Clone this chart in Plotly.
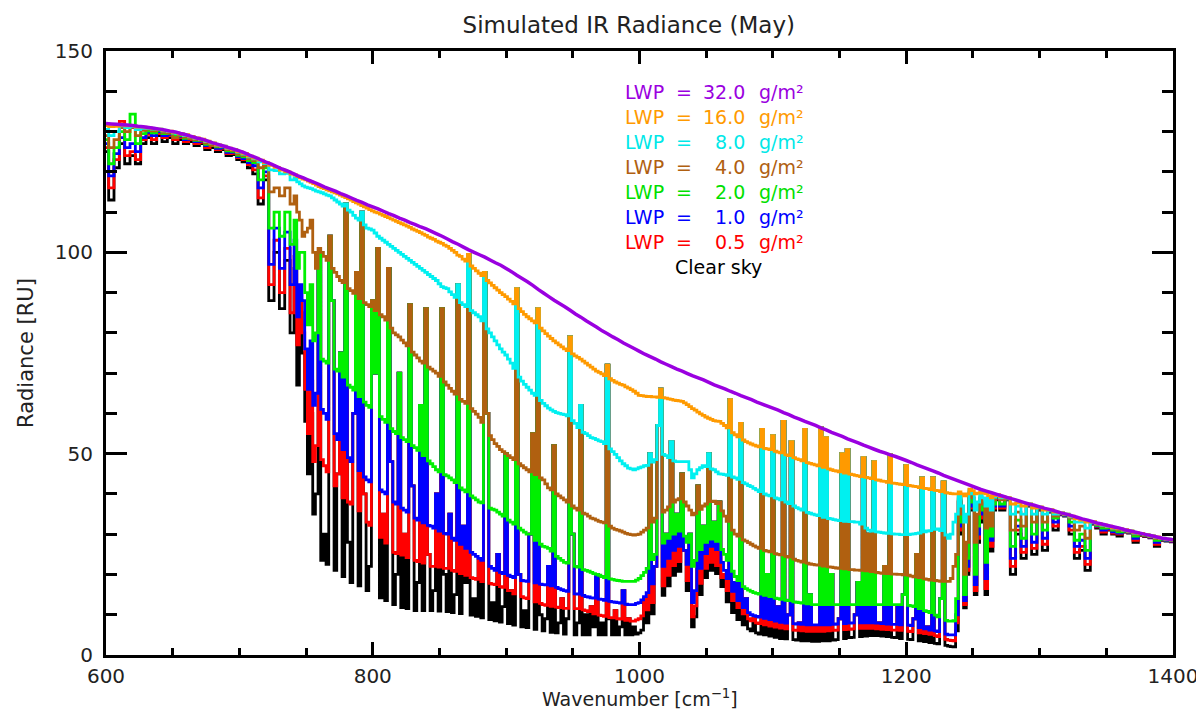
import plotly.graph_objects as go

# ---------------- data ----------------
# wavenumber samples (cm^-1): 4 cm^-1 in the CO2 band and the far wing, 2 cm^-1 in the window
wavenumber = list(range(600, 740, 4)) + list(range(740, 1270, 2)) + list(range(1272, 1401, 4))
wavenumber_top = list(range(600, 1401, 4))  # sampling of the smooth LWP = 32 curve

clear_sky = [
    # 600-736
    125, 113, 121, 127, 122, 124, 122, 127, 128.5, 127, 129, 127.5, 128.5, 127, 128, 127, 127.5, 126.5,
    127, 125.5, 126, 125, 125.5, 124, 124.3, 123, 122.5, 121, 119.5, 112, 118, 88, 100, 86, 98,
    # 740-1268
    80, 96, 67, 85, 75, 58, 45, 60, 35, 40,
    100, 23.5, 30, 22.5, 104, 88, 21, 45, 75, 19.5,
    112, 28, 18, 60, 95, 17.2, 110, 40, 16, 22,
    88, 70, 101, 14.2, 35, 13.5, 96, 48, 12.5, 20,
    70, 11.8, 30, 11.5, 87, 42, 11, 18, 62, 11,
    86, 25, 11, 16, 40, 10.9, 86, 20, 10.8, 35,
    10.5, 15, 92, 10.3, 32, 18, 99.5, 9.9, 14, 9.6,
    24, 9.2, 95, 60, 8.8, 13, 8.5, 25, 8.2, 12,
    50, 7.8, 16, 7.4, 91, 20, 7, 11, 6.8, 30,
    55, 6.4, 86, 10, 6, 9, 22, 5.6, 52, 5.5,
    8, 14, 5.2, 9, 79, 30, 5, 8, 62, 5,
    10, 5, 12, 7, 20, 5, 8, 5, 72, 9,
    5, 11, 5, 7, 16, 5, 9, 5, 7, 5.2,
    5.5, 6.2, 14, 8, 50, 10.2, 22, 57, 66, 14.8,
    30, 17.2, 53, 19.8, 35, 20.8, 45, 26, 16, 30,
    7, 9.5, 42, 15, 32, 19.2, 50, 21, 33, 20.2,
    38, 17, 20, 13.2, 63.4, 10.5, 18, 8.8, 57.5, 7.5,
    14, 6.5, 6, 9, 5.5, 5.2, 56, 5, 20, 4.7,
    54.5, 4.4, 12, 4.1, 58, 4, 10, 53, 3.8, 3.7,
    8, 3.5, 56, 3.5, 15, 3.4, 7, 3.4, 56.4, 3.5,
    54, 3.5, 20, 3.7, 3.8, 9, 50, 4.1, 51, 4.3,
    4.4, 10, 18, 4.6, 49, 4.7, 30, 4.8, 48, 4.8,
    8, 4.7, 22, 4.6, 49.7, 4.4, 4.3, 12, 4.1, 15,
    47, 3.9, 3.8, 9, 25, 3.5, 44, 3.3, 7, 3.1,
    44, 2.9, 2.8, 14, 43, 2.4, 2.2, 2.1, 2, 6,
    38, 30, 11.7, 20, 39, 36, 15, 28, 36, 33,
    15, 35, 25.8, 36, 38.5,
    # 1272-1400
    36, 38.5, 20, 30, 24, 37, 25, 36, 26, 35.5, 31, 34.8, 34.5, 30, 24, 26, 21, 32.5, 31.5, 30, 31,
    30, 29.5, 30.5, 30.3, 28, 29.7, 29.4, 29.1, 27, 28.5, 28.3, 28.1,
]

lwp_0_5 = [
    126, 116, 123, 132.5, 124, 125, 123, 128, 129.3, 128, 129.5, 128.5, 129, 128, 128.5, 127.5, 128, 127,
    127.3, 126, 126.5, 125.5, 125.8, 124.5, 124.6, 123.5, 123, 121.8, 120.5, 113.5, 119, 92, 103, 90, 101,
    85, 99, 77, 88, 80, 66, 55, 68, 48, 52,
    100, 48.5, 47, 45.5, 104, 88, 42, 45, 75, 39,
    112, 38, 37.5, 60, 95, 35.8, 110, 40, 33, 32.2,
    88, 70, 101, 29.2, 35, 27.8, 96, 48, 25.5, 25.2,
    70, 24.8, 30, 24.2, 87, 42, 23.5, 23.2, 62, 22.8,
    86, 25, 22, 22, 40, 21.8, 86, 21.5, 21.5, 35,
    21, 20.8, 92, 20.2, 32, 19.8, 99.5, 19.2, 19, 18.8,
    24, 18.2, 95, 60, 17.8, 17.6, 17.5, 25, 17, 16.8,
    50, 16, 16, 15.2, 91, 20, 14.5, 14.2, 14, 30,
    55, 13.2, 86, 12.8, 12.5, 12.3, 22, 12.1, 52, 11.9,
    11.8, 14, 11.6, 11.6, 79, 30, 11.5, 11.5, 62, 11.2,
    11, 10.8, 12, 10.2, 20, 9.9, 9.8, 9.6, 72, 9.3,
    9.2, 11, 9, 8.9, 16, 8.6, 9, 8.4, 8.4, 8.7,
    9, 9.7, 14, 11.2, 50, 13, 22, 57, 66, 17.2,
    30, 19.8, 53, 22.2, 35, 23.2, 45, 26, 18.5, 30,
    9.5, 12.2, 42, 17.8, 32, 21.5, 50, 23, 33, 22.2,
    38, 19.2, 20, 16, 63.4, 13.5, 18, 11.8, 57.5, 10.2,
    14, 9, 8.5, 9, 8, 7.8, 56, 7.5, 20, 7.2,
    54.5, 6.9, 12, 6.7, 58, 6.5, 10, 53, 6.2, 6.1,
    8, 6, 56, 5.9, 15, 5.9, 7, 5.9, 56.4, 5.9,
    54, 6, 20, 6.1, 6.2, 9, 50, 6.3, 51, 6.4,
    6.5, 10, 18, 6.6, 49, 6.6, 30, 6.6, 48, 6.5,
    8, 6.4, 22, 6.3, 49.7, 6.2, 6.2, 12, 6.1, 15,
    47, 5.9, 5.8, 9, 25, 5.5, 44, 5.3, 7, 5.1,
    44, 4.8, 4.6, 14, 43, 3.9, 3.7, 3.6, 3.5, 8,
    38, 31, 12.5, 21, 39, 36.5, 16, 29, 36.5, 34,
    16.5, 35.5, 27, 36.5, 38.8,
    36.5, 38.6, 22, 31, 25.5, 37.1, 26.5, 36.2, 27.5, 35.6, 32, 34.9, 34.6, 31, 25.5, 27, 22.5, 32.6,
    31.8, 30.5, 31.2, 30.3, 30, 30.6, 30.4, 28.5, 29.8, 29.5, 29.2, 27.5, 28.6, 28.4, 28.2,
]

lwp_1 = [
    127, 119, 124.5, 128.5, 126, 127, 125, 128.5, 129.8, 129, 130, 129, 129.3, 128.5, 128.8, 128, 128.3,
    127.5, 127.6, 126.5, 126.8, 125.8, 126, 124.8, 124.9, 123.8, 123.3, 122.3, 121.5, 116, 120, 97, 106, 96,
    105,
    92, 103, 84, 92, 88, 76, 66, 78, 62, 65,
    100, 61, 60, 58.5, 104, 88, 55, 53.5, 75, 51,
    112, 49, 48, 60, 95, 45.8, 110, 44.2, 43.5, 43,
    88, 70, 101, 41, 40.5, 40, 96, 48, 38, 37.5,
    70, 36.5, 36, 35.5, 87, 42, 34, 33.5, 62, 32.8,
    86, 32.2, 32, 31.5, 40, 30.8, 86, 30.2, 30, 35,
    29, 28.5, 92, 27.5, 32, 26.5, 99.5, 25.5, 25, 24.5,
    24, 23.5, 95, 60, 22, 21.5, 21, 25, 20.5, 20.2,
    50, 19.8, 19.5, 19.2, 91, 20, 18.5, 18.4, 18.3, 30,
    55, 17.9, 86, 17.6, 17.5, 17.4, 22, 17.2, 52, 16.8,
    16.5, 16.2, 16, 15.8, 79, 30, 15.2, 15.1, 62, 14.8,
    14.5, 14.4, 14.2, 14.1, 20, 13.9, 13.8, 13.6, 72, 13.3,
    13.2, 13.1, 13, 12.9, 16, 12.6, 12.5, 12.5, 12.5, 12.8,
    13, 13.7, 14.5, 15.5, 50, 17.7, 22, 57, 66, 22,
    30, 24, 53, 26, 35, 27, 45, 26, 22.5, 30,
    13, 16, 42, 21.5, 32, 25.2, 50, 27, 33, 26.2,
    38, 23, 21, 19, 63.4, 15.8, 18, 13.5, 57.5, 11.8,
    14, 10.5, 10, 9.8, 9.6, 9.4, 56, 9.1, 20, 8.8,
    54.5, 8.4, 12, 8.1, 58, 7.9, 10, 53, 7.8, 7.7,
    8, 7.6, 56, 7.5, 15, 7.5, 7.5, 7.5, 56.4, 7.5,
    54, 7.5, 20, 7.6, 7.7, 9, 50, 7.8, 51, 7.9,
    8, 10, 18, 8, 49, 8, 30, 8, 48, 7.9,
    8, 7.8, 22, 7.7, 49.7, 7.6, 7.6, 12, 7.5, 15,
    47, 7.4, 7.3, 9, 25, 6.8, 44, 6.5, 7, 6.2,
    44, 6, 5.8, 14, 43, 5.2, 5, 5, 5, 10,
    38.5, 32, 13.5, 22, 39.5, 37, 17.5, 30, 37, 35,
    19, 36, 28.5, 37, 39,
    37, 38.7, 24, 32, 27, 37.2, 28, 36.4, 29, 35.7, 33, 35, 34.7, 32, 27, 28.5, 24, 32.7, 32, 31, 31.4,
    30.6, 30.3, 30.7, 30.5, 29, 29.9, 29.6, 29.3, 28, 28.7, 28.5, 28.3,
]

lwp_2 = [
    128, 122, 126, 130, 128, 134.3, 127, 129.5, 130.2, 129.7, 130.3, 129.5, 129.6, 129, 129, 128.3, 128.5,
    127.8, 127.8, 126.8, 127, 126.2, 126.2, 125.2, 125.1, 124.1, 123.7, 122.8, 122.3, 118, 121, 106, 110,
    104, 110,
    102, 108, 96, 100, 100, 90, 82, 92, 78, 80,
    100, 73.5, 73, 72.5, 104, 88, 71, 70.5, 75, 69,
    112, 67, 66.5, 65.8, 95, 64.2, 110, 62.8, 62, 61.5,
    88, 70, 101, 59.2, 58.5, 57.8, 96, 56.2, 55.5, 55,
    70, 54, 53.5, 53, 87, 52, 51.5, 50.8, 62, 49.5,
    86, 48.2, 47.5, 46.8, 46, 45.5, 86, 44.8, 44.5, 44,
    43.5, 42.8, 92, 41.5, 41, 40.5, 99.5, 39.5, 39, 38.5,
    38, 37.8, 95, 60, 36.5, 36.2, 36, 35.5, 35, 34.5,
    50, 33.5, 33, 32.5, 91, 31.5, 31, 30.5, 30, 30,
    55, 28.5, 86, 27.5, 27, 26.8, 26.5, 25.8, 52, 24.5,
    24, 23.5, 23, 22.8, 79, 30, 22, 21.8, 62, 21.2,
    21, 20.8, 20.5, 20.2, 20, 19.8, 19.5, 19.2, 72, 18.9,
    18.8, 18.6, 18.5, 18.4, 18.3, 18.3, 18.3, 18.3, 18.3, 18.6,
    19, 19.7, 20.5, 21.5, 50, 23.7, 25, 57, 66, 27.8,
    30, 29, 53, 30, 35, 30.8, 45, 29.5, 28, 30,
    22, 23.5, 42, 26.2, 32, 28, 50, 28.8, 33, 28.2,
    38, 26.2, 25, 23.5, 63.4, 20.8, 19.5, 18.5, 57.5, 17,
    16.5, 16.1, 15.8, 15.5, 15.3, 15.1, 56, 14.8, 20, 14.5,
    54.5, 14.1, 14, 13.8, 58, 13.6, 13.5, 53, 13.2, 13.1,
    13, 12.9, 56, 12.7, 15, 12.5, 12.5, 12.5, 56.4, 12.5,
    54, 12.5, 20, 12.5, 12.5, 12.5, 50, 12.5, 51, 12.5,
    12.5, 12.5, 18, 12.5, 49, 12.5, 30, 12.5, 48, 12.5,
    12.5, 12.5, 22, 12.5, 49.7, 12.5, 12.5, 12.5, 12.5, 15,
    47, 12.3, 12.2, 12, 25, 11.5, 44, 11, 10.8, 10.5,
    44, 9.9, 9.5, 14, 43, 8.6, 8.4, 8.4, 8.5, 14,
    39, 33, 15, 24, 40, 38, 20, 32, 38, 36,
    23, 37, 29.5, 37.5, 39.2,
    37.5, 38.8, 27, 33.5, 29, 37.3, 30, 36.5, 31, 35.8, 34, 35.1, 34.8, 33, 28.5, 30, 26, 32.8, 32.2,
    31.5, 31.6, 31, 30.6, 30.8, 30.6, 29.5, 30, 29.7, 29.4, 28.5, 28.8, 28.6, 28.4,
]

lwp_4 = [
    129, 126, 128, 131, 130, 131, 129, 130.3, 130.6, 130.2, 130.5, 129.8, 129.6, 128.5, 129.2, 128.6,
    128.2, 128.0, 127.9, 127.1, 126.5, 126.4, 126.3, 125.5, 125.3, 124.4, 124.0, 123.2, 122.8, 121, 121.5,
    115, 116, 114, 116,
    112, 114, 110, 108, 104, 105, 106, 108, 100, 96,
    101, 100, 99, 98, 104, 96, 95, 94, 93, 92.5,
    112, 91, 90.5, 89.8, 95, 88.5, 110, 87.5, 87, 86.5,
    88, 85.5, 101, 84.5, 84, 83.2, 96, 81.2, 80, 79.5,
    79, 78.2, 77.5, 76.8, 87, 75.2, 74.5, 73.8, 73, 72.5,
    86, 71.5, 71, 70.5, 70, 69.2, 86, 67.8, 67, 66.2,
    65.5, 64.8, 92, 63.5, 63, 62.5, 99.5, 61.2, 60.5, 59.8,
    59, 57.8, 95, 60, 54.5, 53.5, 52.5, 51.8, 51, 50.5,
    50, 49.5, 49, 48.5, 91, 47.5, 47, 46.5, 46, 45.5,
    55, 44.8, 86, 44, 43.5, 42.5, 41.5, 41, 52, 40,
    39.5, 39, 38.5, 38, 79, 37, 36.5, 36, 62, 35.2,
    35, 34.5, 34, 33.8, 33.5, 33.2, 33, 32.8, 72, 32,
    31.5, 31.2, 31, 30.8, 30.5, 30.2, 30, 29.9, 29.8, 29.9,
    30, 30.5, 31, 31.5, 50, 33, 34, 57, 66, 35.5,
    36, 36.8, 53, 38, 38.5, 38.8, 45, 38, 37, 36,
    34.8, 35.2, 42, 36.2, 37, 37.5, 50, 38.1, 38.2, 37.6,
    38, 35.8, 34.5, 33.2, 63.4, 31, 30, 29.5, 57.5, 28.6,
    28.3, 27.9, 27.5, 27.1, 26.8, 26.5, 56, 26, 25.8, 25.6,
    54.5, 25.2, 25, 24.9, 58, 24.5, 24.3, 53, 23.8, 23.5,
    23.3, 23.1, 56, 22.8, 22.6, 22.5, 22.4, 22.3, 56.4, 22.1,
    54, 21.9, 21.8, 21.7, 21.6, 21.5, 50, 21.4, 51, 21.2,
    21.2, 21.1, 21.1, 21, 49, 20.9, 30, 20.7, 48, 20.5,
    20.4, 20.3, 22, 20.2, 49.7, 20.1, 20.1, 20, 20, 19.9,
    47, 19.8, 19.6, 19.4, 25, 19.2, 44, 18.9, 18.8, 18.6,
    44, 18.5, 18.4, 18.3, 43, 18.3, 18.3, 19, 22, 25,
    39.5, 35, 20, 28, 40.5, 39, 28, 35, 39, 37.5,
    31.5, 38, 32, 38.5, 39.4,
    38.5, 38.9, 31, 35.5, 32, 37.4, 33, 36.6, 33, 35.9, 34.5, 35.2, 34.9, 34, 31, 32, 29, 32.9, 32.4,
    32, 31.8, 31.3, 31, 30.9, 30.7, 30, 30.1, 29.8, 29.5, 29, 28.9, 28.7, 28.5,
]

lwp_8 = [
    130.5, 129, 130, 131.4, 131, 131.2, 130.5, 130.8, 130.8, 130.6, 130.6, 130.2, 130.0, 129.6, 129.4,
    129.0, 128.7, 128.3, 128.0, 127.5, 127.1, 126.6, 126.4, 125.8, 125.5, 124.9, 124.4, 123.7, 123.2,
    122.5, 122.1, 120.5, 120.3, 119.5, 119.6,
    118, 118.5, 117.5, 117, 116.5, 116.2, 116, 115.8, 115.5, 115.2,
    115, 114.8, 114.5, 114.2, 114, 113.5, 113, 112.5, 112, 111.5,
    112, 110.5, 110, 109.2, 108.5, 108, 110, 106.8, 106, 105.8,
    105.5, 104.8, 104, 103.5, 103, 102.5, 102, 101.5, 101, 100.5,
    100, 99.5, 99, 98.5, 98, 97.5, 97, 96.5, 96, 95.5,
    95, 94.5, 94, 93.5, 93, 92.2, 91.5, 91.2, 91, 90.2,
    89.5, 88.8, 92, 87.5, 87, 86.5, 99.5, 85.5, 85, 84.5,
    84, 83, 95, 81, 80, 79, 78, 77, 76, 75.2,
    74.5, 73.5, 72.5, 71.2, 91, 69, 68, 67.2, 66.5, 65.8,
    65, 64.5, 86, 63.2, 62.5, 61.9, 61.3, 60.9, 60.5, 60.2,
    60, 59.8, 59.7, 59.4, 79, 58.2, 57.5, 56.5, 62, 55.3,
    55, 54.5, 54, 53.8, 53.5, 53.2, 53, 52.5, 72, 51.2,
    50.5, 49.8, 49, 48.2, 47.5, 47, 46.4, 46.2, 46, 46.2,
    46.5, 46.7, 47, 47.1, 50, 47.9, 48.5, 57, 66, 49.8,
    49.5, 49, 53, 48.2, 48, 48, 48, 48, 48, 46,
    44, 45, 46, 46.5, 47, 46.8, 50, 46.2, 46, 45.5,
    45, 44.9, 44.8, 44.6, 63.4, 44.2, 44, 43.6, 57.5, 42.8,
    42.5, 42.1, 41.8, 41.4, 41, 40.6, 56, 40, 39.7, 39.5,
    54.5, 39, 38.8, 38.5, 58, 38, 37.6, 53, 37, 36.6,
    36.3, 36, 56, 35.4, 35.2, 35, 34.8, 34.6, 56.4, 34.2,
    54, 33.9, 33.8, 33.6, 33.5, 33.4, 50, 33.2, 51, 33.1,
    33.1, 33, 33, 32.5, 49, 31.5, 31, 30.8, 48, 30.6,
    30.5, 30.4, 30.3, 30.2, 49.7, 30.1, 30, 30, 29.9, 29.9,
    47, 29.9, 30, 30.1, 30.2, 30.3, 44, 30.6, 30.8, 30.9,
    44, 31.2, 31.3, 30.9, 43, 29.8, 29, 30, 33, 35,
    40, 37, 33, 35, 41, 40, 36, 38, 40, 39,
    37, 39, 36, 39.2, 39.6,
    39, 39, 35, 37, 35, 37.5, 35, 36.7, 35, 36, 35, 35.3, 35, 34.3, 33, 33, 31.5, 33, 32.6, 32.2, 31.9,
    31.5, 31.3, 31, 30.8, 30.3, 30.2, 29.9, 29.6, 29.2, 29, 28.8, 28.6,
]

lwp_16 = [
    131.5, 131.2, 131.3, 131.6, 131.4, 131.4, 131.1, 131.1, 130.9, 130.7, 130.6, 130.3, 130.1, 129.8,
    129.5, 129.2, 128.8, 128.4, 128.1, 127.6, 127.2, 126.7, 126.4, 125.9, 125.5, 125.0, 124.6, 123.9,
    123.4, 122.9, 122.3, 121.6, 121.1, 120.4, 120.0,
    119.4, 119.2, 118.8, 118.5, 118.2, 118, 117.7, 117.4, 117.1, 116.7,
    116.3, 116, 115.8, 115.5, 115.3, 115, 114.8, 114.5, 114.2, 113.9,
    113.6, 113.3, 113, 112.6, 112.3, 112, 111.6, 111.3, 111, 110.6,
    110.3, 110, 109.8, 109.5, 109.2, 108.9, 108.6, 108.3, 108, 107.7,
    107.4, 107.1, 106.8, 106.5, 106.2, 105.8, 105.5, 105.2, 104.9, 104.5,
    104.2, 103.8, 103.5, 103.2, 102.8, 102.5, 102.2, 101.8, 101.5, 101,
    100.5, 100, 99.3, 99, 98.3, 97.8, 99.5, 96.6, 96, 95.4,
    94.8, 94.2, 95, 93, 92.4, 91.8, 91.2, 90.6, 90, 89.5,
    89, 88.4, 87.8, 87.2, 91, 86, 85.3, 84.6, 84, 83.5,
    83, 82.5, 86, 81.2, 80.5, 79.8, 79.2, 78.6, 78, 77.5,
    77, 76.5, 76, 75.6, 79, 74.8, 74.3, 73.9, 73.5, 73,
    72.5, 72, 71.5, 71, 70.5, 70.2, 69.8, 69.4, 72, 68.6,
    68.2, 67.8, 67.5, 67.2, 67, 66.6, 66.3, 65.9, 65.5, 65,
    64.5, 64.4, 64.3, 64.2, 64.2, 64.1, 64.1, 64, 66, 63.9,
    63.8, 63.6, 63.5, 63.3, 63.2, 63.1, 63, 62.6, 62.2, 61.7,
    61.2, 60.8, 60.3, 59.9, 59.5, 59.1, 58.8, 58.5, 58.2, 58.1,
    58, 57.5, 57, 56.4, 63.4, 55.2, 54.7, 54.2, 57.5, 53.4,
    53, 52.7, 52.4, 52.1, 51.9, 51.7, 56, 51.3, 51.2, 51,
    54.5, 50.6, 50.4, 50.2, 58, 49.7, 49.5, 53, 49, 48.7,
    48.5, 48.2, 56, 47.8, 47.6, 47.4, 47.2, 47, 56.4, 46.6,
    54, 46.2, 46, 45.8, 45.7, 45.5, 50, 45.2, 51, 44.9,
    44.8, 44.6, 44.5, 44.3, 49, 44.1, 44, 43.8, 48, 43.5,
    43.4, 43.2, 43.1, 42.9, 49.7, 42.7, 42.6, 42.5, 42.4, 42.3,
    47, 42.1, 42, 41.9, 41.8, 41.6, 44, 41.4, 41.3, 41.1,
    44, 40.9, 40.8, 40.6, 43, 40.3, 40.2, 40.1, 40, 40,
    40.5, 40, 39.5, 40, 41.2, 40.8, 40, 40.2, 40.5, 40.2,
    40, 39.6, 39, 39.6, 39.8,
    39.3, 39.1, 37.5, 37.8, 37, 37.5, 36.5, 36.8, 36, 36.1, 35.5, 35.3, 35, 34.5, 33.8, 33.5, 33, 33.1,
    32.7, 32.3, 32, 31.6, 31.4, 31.1, 30.8, 30.4, 30.2, 29.9, 29.6, 29.3, 29, 28.8, 28.6,
]

lwp_32 = [
    132.0, 131.9, 131.8, 131.7, 131.6, 131.5, 131.3, 131.2, 131.0, 130.8,
    130.6, 130.4, 130.1, 129.9, 129.5, 129.2, 128.8, 128.4, 128.1, 127.7,
    127.2, 126.8, 126.4, 126.0, 125.6, 125.2, 124.7, 124.1, 123.6, 123.0,
    122.4, 121.9, 121.3, 120.7, 120.2, 119.6, 119.0, 118.5, 117.9, 117.4,
    116.8, 116.2, 115.7, 115.2, 114.6, 114.1, 113.5, 112.9, 112.4, 111.8,
    111.3, 110.8, 110.2, 109.6, 109.1, 108.5, 108.0, 107.4, 106.9, 106.3,
    105.8, 105.2, 104.6, 104.0, 103.3, 102.6, 102.0, 101.3, 100.6, 100.0,
    99.4, 98.8, 98.1, 97.4, 96.8, 96.0, 95.2, 94.3, 93.5, 92.7,
    91.8, 90.8, 89.9, 89.0, 88.1, 87.3, 86.5, 85.6, 84.7, 83.9,
    83.0, 82.2, 81.4, 80.5, 79.8, 79.0, 78.3, 77.5, 76.8, 76.1,
    75.4, 74.7, 74.1, 73.5, 72.8, 72.2, 71.6, 71.0, 70.5, 69.9,
    69.3, 68.8, 68.3, 67.7, 67.1, 66.6, 66.1, 65.5, 65.0, 64.4,
    63.9, 63.4, 62.8, 62.3, 61.8, 61.3, 60.8, 60.2, 59.7, 59.1,
    58.6, 58.0, 57.5, 57.0, 56.4, 55.9, 55.3, 54.8, 54.3, 53.7,
    53.2, 52.7, 52.1, 51.6, 51.1, 50.6, 50.2, 49.7, 49.3, 48.8,
    48.3, 47.8, 47.2, 46.7, 46.2, 45.7, 45.2, 44.6, 44.1, 43.6,
    43.1, 42.6, 42.1, 41.6, 41.1, 40.7, 40.3, 39.9, 39.5, 39.1,
    38.7, 38.3, 37.9, 37.5, 37.2, 36.8, 36.4, 36.1, 35.7, 35.3,
    35.0, 34.6, 34.2, 33.8, 33.5, 33.1, 32.7, 32.4, 32.1, 31.8,
    31.5, 31.1, 30.8, 30.5, 30.2, 29.9, 29.6, 29.3, 29.0, 28.8,
    28.6,
]

legend_values = ["32.0", "16.0", "8.0", "4.0", "2.0", "1.0", "0.5"]
x_ticks = [600, 800, 1000, 1200, 1400]
y_ticks = [0, 50, 100, 150]

for arr in (clear_sky, lwp_0_5, lwp_1, lwp_2, lwp_4, lwp_8, lwp_16):
    assert len(arr) == len(wavenumber), len(arr)
assert len(lwp_32) == len(wavenumber_top)

# drawn from the lowest radiance (clear sky) to the highest (LWP 32)
series = [
    ("Clear sky", wavenumber, clear_sky, "#000000"),
    ("LWP = 0.5 g/m²", wavenumber, lwp_0_5, "#ff0000"),
    ("LWP = 1.0 g/m²", wavenumber, lwp_1, "#0000ff"),
    ("LWP = 2.0 g/m²", wavenumber, lwp_2, "#00f000"),
    ("LWP = 4.0 g/m²", wavenumber, lwp_4, "#b06010"),
    ("LWP = 8.0 g/m²", wavenumber, lwp_8, "#00f0f0"),
    ("LWP = 16.0 g/m²", wavenumber, lwp_16, "#ff9a00"),
    ("LWP = 32.0 g/m²", wavenumber_top, lwp_32, "#9a00e0"),
]
legend_colors = ["#9a00e0", "#ff9a00", "#00e8e8", "#b06010", "#00e000", "#0000ff", "#ff0000"]

FONT = "DejaVu Sans"
TXT = "#222222"

fig = go.Figure()
for name, xs, vals, color in series:
    is_top = name.startswith("LWP = 32")
    fig.add_trace(go.Scatter(
        x=xs, y=vals, mode="lines", name=name, showlegend=False,
        hoverinfo="skip",
        line=dict(color=color, width=3.5 if is_top else 2.8,
                  shape="linear" if is_top else "hvh", simplify=False),
    ))

# plot-area geometry in pixels
L, R, T, B = 98, 1165, 43, 647
W, H = 1204, 710


def px(x):
    return (x - L) / (R - L)


def py(y):
    return (B - y) / (B - T)


annotations = []
row_y = [84, 109, 134, 159, 184, 209, 234]
for val, col, yy in zip(legend_values, legend_colors, row_y):
    f = dict(family=FONT, size=19, color=col)
    annotations.append(dict(text="LWP", x=px(615), y=py(yy), xref="paper", yref="paper",
                            xanchor="left", yanchor="middle", showarrow=False, font=f))
    annotations.append(dict(text="=", x=px(676), y=py(yy), xref="paper", yref="paper",
                            xanchor="center", yanchor="middle", showarrow=False, font=f))
    annotations.append(dict(text=val, x=px(739), y=py(yy), xref="paper", yref="paper",
                            xanchor="right", yanchor="middle", showarrow=False, font=f))
    annotations.append(dict(text="g/m²", x=px(749), y=py(yy), xref="paper", yref="paper",
                            xanchor="left", yanchor="middle", showarrow=False, font=f))
annotations.append(dict(text="Clear sky", x=px(710), y=py(259), xref="paper", yref="paper",
                        xanchor="center", yanchor="middle", showarrow=False,
                        font=dict(family=FONT, size=19, color="#000000")))
# axis titles
annotations.append(dict(text="Wavenumber [cm<sup>−1</sup>]", x=0.5, y=py(704), xref="paper",
                        yref="paper", xanchor="center", yanchor="bottom", showarrow=False,
                        font=dict(family=FONT, size=19, color=TXT)))
annotations.append(dict(text="Radiance [RU]", x=px(18), y=0.5, xref="paper", yref="paper",
                        xanchor="center", yanchor="middle", textangle=-90, showarrow=False,
                        font=dict(family=FONT, size=21, color=TXT)))

axis_common = dict(
    showline=True, linewidth=3, linecolor="black", mirror="ticks",
    ticks="inside", tickcolor="black", tickwidth=2.5,
    showgrid=False, zeroline=False,
    tickfont=dict(family=FONT, size=20, color=TXT),
)

fig.update_layout(
    width=W, height=H,
    margin=dict(l=L, r=W - R, t=T, b=H - B),
    paper_bgcolor="white", plot_bgcolor="white",
    title=dict(text="Simulated IR Radiance (May)", x=0.49, xref="paper",
               y=1 - 17 / H, yref="container", xanchor="center", yanchor="middle",
               font=dict(family=FONT, size=23, color=TXT)),
    xaxis=dict(range=[600, 1400], tickmode="array", tickvals=x_ticks, ticklen=13,
               ticklabelstandoff=1,
               minor=dict(tickmode="linear", tick0=600, dtick=50, ticks="inside",
                          ticklen=7, tickwidth=2.5, tickcolor="black"),
               **axis_common),
    yaxis=dict(range=[0, 150], tickmode="array", tickvals=y_ticks, ticklen=21,
               ticklabelstandoff=6,
               minor=dict(tickmode="linear", tick0=0, dtick=10, ticks="inside",
                          ticklen=11, tickwidth=2.5, tickcolor="black"),
               **axis_common),
    annotations=annotations,
    showlegend=False,
)

fig.write_html("out.html")
